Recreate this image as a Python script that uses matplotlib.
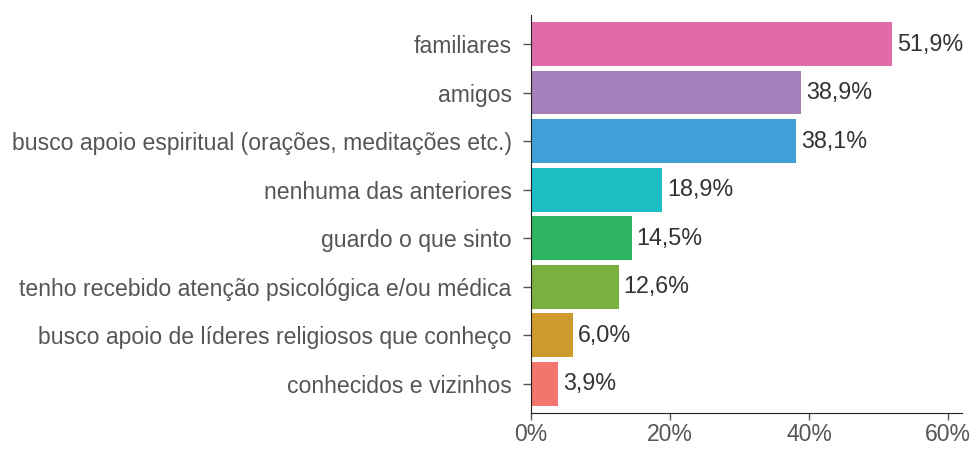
import matplotlib
matplotlib.use("Agg")
import matplotlib.pyplot as plt
from matplotlib.ticker import FuncFormatter

plt.rcParams['font.family'] = ['Liberation Sans', 'DejaVu Sans']

categories = [
    "familiares",
    "amigos",
    "busco apoio espiritual (orações, meditações etc.)",
    "nenhuma das anteriores",
    "guardo o que sinto",
    "tenho recebido atenção psicológica e/ou médica",
    "busco apoio de líderes religiosos que conheço",
    "conhecidos e vizinhos",
]
values = [51.9, 38.9, 38.1, 18.9, 14.5, 12.6, 6.0, 3.9]
colors = ["#E16BA8", "#A680BA", "#42A0D8", "#1DBFC4", "#2DB562", "#7AB03F", "#CF9A2C", "#F2756E"]
xticks = [0, 20, 40, 60]

fig = plt.figure(figsize=(9.73, 4.49), dpi=100)
ax = fig.add_axes([0.5457, 0.0802, 0.443, 0.8864])

ypos = list(range(len(categories)))[::-1]
ax.barh(ypos, values, height=0.9, color=colors)

for y, v in zip(ypos, values):
    ax.text(v + 0.7, y, f"{v:.1f}%".replace(".", ","), va="center", ha="left",
            fontsize=16.8, color="#333333")

ax.set_ylim(-0.6, len(categories) - 0.4)
ax.set_xlim(0, 62)
ax.set_yticks(ypos)
ax.set_yticklabels(categories, fontsize=16.6)
ax.set_xticks(xticks)
ax.xaxis.set_major_formatter(FuncFormatter(lambda x, p: f"{x:.0f}%"))
ax.tick_params(axis="x", labelsize=16.5, colors="#555555", length=5, width=1, pad=2)
ax.tick_params(axis="y", colors="#555555", length=6, width=1, pad=8)
for lbl in ax.get_xticklabels():
    lbl.set_color("#555555")
for lbl in ax.get_yticklabels():
    lbl.set_color("#555555")

ax.spines["top"].set_visible(False)
ax.spines["right"].set_visible(False)
ax.spines["left"].set_color("#222222")
ax.spines["bottom"].set_color("#222222")

fig.savefig("out.png", dpi=100)
